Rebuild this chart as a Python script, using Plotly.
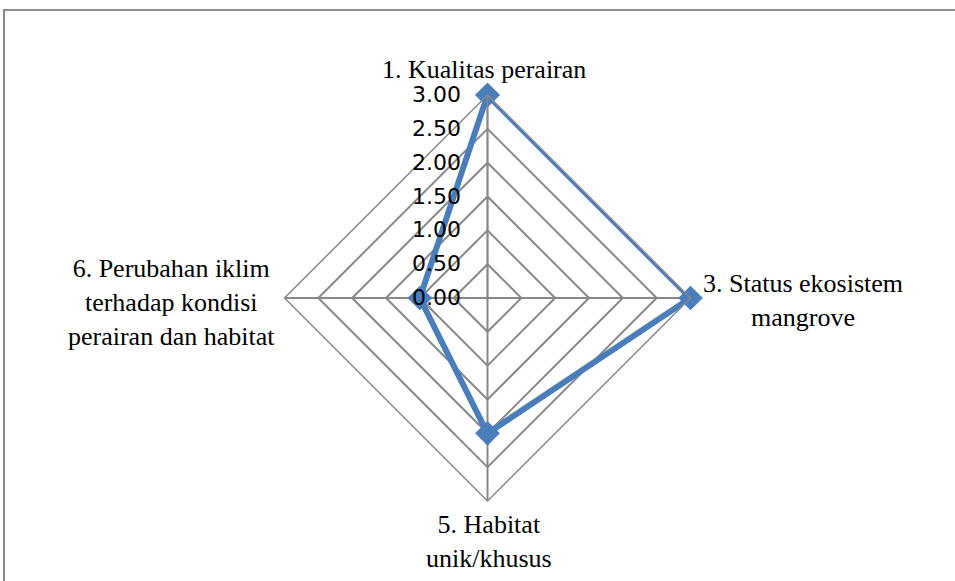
import plotly.graph_objects as go

categories = ["1. Kualitas perairan", "3. Status ekosistem mangrove",
              "5. Habitat unik/khusus",
              "6. Perubahan iklim terhadap kondisi perairan dan habitat"]
values = [3.0, 3.0, 2.0, 1.0]
label_texts = ["1. Kualitas perairan", "3. Status ekosistem<br>mangrove",
               "5. Habitat<br>unik/khusus",
               "6. Perubahan iklim<br>terhadap kondisi<br>perairan dan habitat"]
tick_vals = [0, 0.5, 1.0, 1.5, 2.0, 2.5, 3.0]
tick_text = ["0.00", "0.50", "1.00", "1.50", "2.00", "2.50", "3.00"]

W, H = 955, 581
cx, cy, R = 487.5, 298, 203

def px(x):
    return x / W

def py(y):
    return 1 - y / H

fig = go.Figure()
fig.add_trace(go.Scatterpolar(
    r=values + values[:1],
    theta=categories + categories[:1],
    mode="lines+markers",
    line=dict(color="#4A7EBB", width=6),
    marker=dict(symbol="diamond", size=19, color="#4A7EBB"),
    showlegend=False,
    hoverinfo="skip",
))

grid_col = "#888888"
fig.update_layout(
    width=W, height=H,
    margin=dict(l=0, r=0, t=0, b=0),
    paper_bgcolor="white",
    plot_bgcolor="white",
    polar=dict(
        domain=dict(x=[px(cx - R), px(cx + R)], y=[py(cy + R), py(cy - R)]),
        bgcolor="white",
        gridshape="linear",
        radialaxis=dict(
            range=[0, 3], tickvals=tick_vals, ticktext=tick_text,
            angle=90, tickangle=90, side="counterclockwise",
            showline=True, linecolor=grid_col, linewidth=1.5,
            gridcolor=grid_col, gridwidth=1.5,
            ticks="outside", ticklen=18, tickcolor="rgba(0,0,0,0)",
            tickfont=dict(family="DejaVu Sans", size=22, color="black"),
        ),
        angularaxis=dict(
            direction="clockwise", rotation=90,
            showticklabels=False, ticks="",
            showline=True, linecolor=grid_col, linewidth=1.5,
            gridcolor=grid_col, gridwidth=1.5,
        ),
    ),
)

label_pos = [(484, 70), (803, 300), (489, 541), (171, 302)]
for txt, (x, y) in zip(label_texts, label_pos):
    fig.add_annotation(
        text=txt, x=px(x), y=py(y), xref="paper", yref="paper",
        xanchor="center", yanchor="middle", align="center", showarrow=False,
        font=dict(family="Liberation Serif", size=26, color="black"),
    )

fig.add_shape(type="rect", xref="paper", yref="paper",
              x0=px(4), x1=1.05, y0=-0.05, y1=py(10),
              line=dict(color="#8c8c8c", width=2), fillcolor="rgba(0,0,0,0)")

fig.write_html("out.html", config={"displayModeBar": False},
               post_script="document.body.style.margin='0';")
